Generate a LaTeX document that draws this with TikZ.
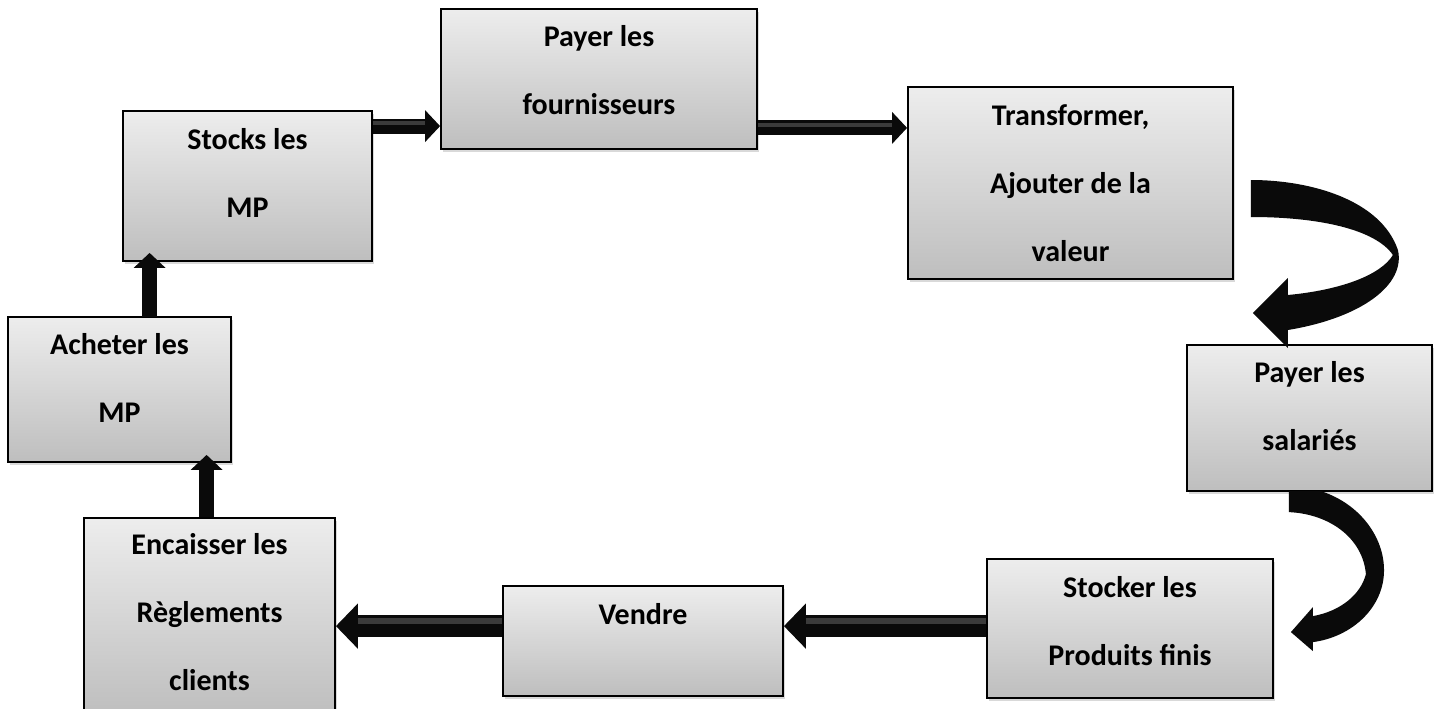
\documentclass[tikz,border=0pt]{standalone}
\usepackage{fontspec}
\setmainfont{Carlito}
\usetikzlibrary{arrows.meta,shadows}
\definecolor{boxtop}{RGB}{237,237,237}
\definecolor{boxbot}{RGB}{190,190,190}
\definecolor{arrowblack}{RGB}{10,10,10}
\renewcommand{\arraystretch}{2}
\newcommand\stacklines[1]{\begin{tabular}[t]{@{}c@{}}#1\end{tabular}}

\begin{document}
\begin{tikzpicture}[x=1pt,y=-1pt,
  stepbox/.style={draw=black, line width=1.8pt, top color=boxtop, bottom color=boxbot,
    inner sep=0pt, drop shadow={shadow xshift=2pt, shadow yshift=-3pt, opacity=0.3}},
  boxsize/.style 2 args={minimum width=#1pt, minimum height=#2pt},
  boxtext/.style={anchor=base, inner sep=0pt, font=\fontsize{30}{34}\selectfont\bfseries},
  fatS/.style={draw=arrowblack, line width=15pt, -{Triangle[width=31pt,length=15pt]}},
  fatL/.style={draw=arrowblack, line width=22pt, -{Triangle[width=44pt,length=22pt]}},
  sheenS/.style={draw=white, draw opacity=0.2, line width=4pt, shorten >=15pt,
    transform canvas={yshift=3pt}},
  sheenL/.style={draw=white, draw opacity=0.2, line width=6pt, shorten >=22pt,
    transform canvas={yshift=5pt}},
  curvedarrow/.style={fill=arrowblack}
]
\useasboundingbox (0,0) rectangle (1437,709);

% process boxes
\node[stepbox, boxsize={249}{150}] (stocks)    at (247.5,186)   {};
\node[stepbox, boxsize={316}{140}] (payf)      at (599,79)      {};
\node[stepbox, boxsize={325}{192}] (transf)    at (1070.5,183)  {};
\node[stepbox, boxsize={245}{146}] (payS)      at (1309.5,418)  {};
\node[stepbox, boxsize={286}{139}] (stocker)   at (1130,628.5)  {};
\node[stepbox, boxsize={280}{110}] (vendre)    at (643,641)     {};
\node[stepbox, boxsize={251}{197}] (encaisser) at (209.5,616.5) {};
\node[stepbox, boxsize={223}{145}] (acheter)   at (119.5,389.5) {};

% box captions
\node[boxtext] (stocksT)    at ([yshift=-39pt]stocks.north)    {\stacklines{Stocks les\\MP}};
\node[boxtext] (payfT)      at ([yshift=-38pt]payf.north)      {\stacklines{Payer les\\fournisseurs}};
\node[boxtext] (transfT)    at ([yshift=-39pt]transf.north)    {\stacklines{Transformer,\\Ajouter de la\\valeur}};
\node[boxtext] (payST)      at ([yshift=-38pt]payS.north)      {\stacklines{Payer les\\salariés}};
\node[boxtext] (stockerT)   at ([yshift=-39pt]stocker.north)   {\stacklines{Stocker les\\Produits finis}};
\node[boxtext] (vendreT)    at ([yshift=-39pt]vendre.north)    {Vendre};
\node[boxtext] (encaisserT) at ([yshift=-37pt]encaisser.north) {\stacklines{Encaisser les\\Règlements\\clients}};
\node[boxtext] (acheterT)   at ([yshift=-38pt]acheter.north)   {\stacklines{Acheter les\\MP}};

% straight block arrows, the horizontal ones with a faint sheen on the shaft
\coordinate (sp) at ([yshift=-16pt]stocks.north east);
\draw[fatS] (sp) -- (sp -| payf.west);
\draw[sheenS] (sp) -- (sp -| payf.west);
\coordinate (pt) at ([yshift=22pt]payf.south east);
\draw[fatS] (pt) -- (pt -| transf.west);
\draw[sheenS] (pt) -- (pt -| transf.west);
\coordinate (vv) at ([yshift=-41pt]vendre.north east);
\draw[fatL] (vv -| stocker.west) -- (vv);
\draw[sheenL] (vv -| stocker.west) -- (vv);
\coordinate (ve) at ([yshift=-41pt]vendre.north west);
\draw[fatL] (ve) -- (ve -| encaisser.east);
\draw[sheenL] (ve) -- (ve -| encaisser.east);

\coordinate (e1) at ([xshift=123.5pt]encaisser.north west);
\coordinate (a1) at ([yshift=8pt]acheter.south west);
\draw[fatS] (e1) -- (e1 |- a1);
\coordinate (a2) at ([xshift=142.5pt]acheter.north west);
\coordinate (s1) at ([yshift=9pt]stocks.south west);
\draw[fatS] ([yshift=-1pt]a2) -- (a2 |- s1);

% curved arrow from the transformation step down to the wages step
\begin{scope}[shift={(transf.east)}]
\fill[curvedarrow] (17,-3) .. controls (77,-3) and (147,17) .. (164,67)
  .. controls (172,102) and (127,135) .. (54,147)
  -- (54,165) -- (19,130) -- (54,95) -- (54,112)
  .. controls (107,107) and (147,92) .. (159,72)
  .. controls (142,47) and (87,34) .. (17,34) -- cycle;
\end{scope}

% curved arrow from the wages step down to the finished goods step
\begin{scope}[shift={(stocker.north east)}]
\fill[curvedarrow] (15,-67) -- (47,-67)
  .. controls (87,-54) and (112,-19) .. (110,16)
  .. controls (108,51) and (77,79) .. (39,84)
  -- (39,93) -- (17,74) -- (39,49) -- (39,58)
  .. controls (67,53) and (87,36) .. (92,16)
  .. controls (89,-19) and (57,-44) .. (15,-46) -- cycle;
\end{scope}
\end{tikzpicture}
\end{document}
